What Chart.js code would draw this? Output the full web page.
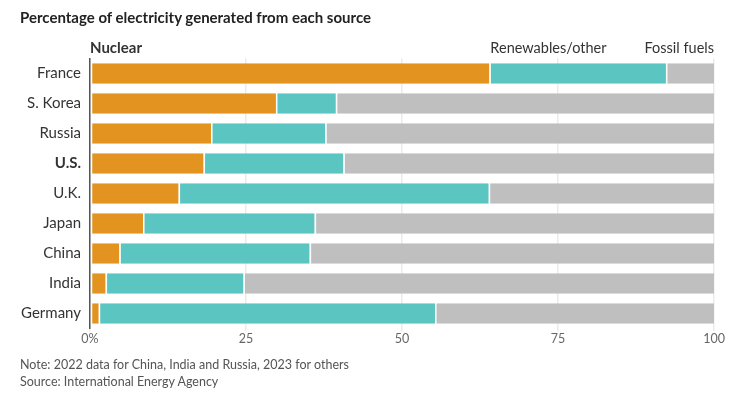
<!DOCTYPE html>
<html>
<head>
<meta charset="utf-8">
<script src="https://cdn.jsdelivr.net/npm/chart.js@4"></script>
<style>
  body { margin: 0; background: #fff; }
  #wrap { position: relative; width: 739px; height: 398px; }
  #titulo { position: absolute; left: 20px; top: 8px; font: bold 15px Lato, sans-serif; color: #222; }
  .nota { position: absolute; left: 20px; font: 12.5px Lato, sans-serif; color: #555; }
</style>
</head>
<body>
<div id="wrap">
  <canvas id="grafico" width="739" height="398"></canvas>
  <div id="titulo">Percentage of electricity generated from each source</div>
  <div class="nota" style="top:357px">Note: 2022 data for China, India and Russia, 2023 for others</div>
  <div class="nota" style="top:374px">Source: International Energy Agency</div>
</div>
<script>
const paises = ['France', 'S. Korea', 'Russia', 'U.S.', 'U.K.', 'Japan', 'China', 'India', 'Germany'];
const nuclear = [64.0, 29.8, 19.4, 18.2, 14.2, 8.5, 4.7, 2.5, 1.4];
const renovaveis = [28.3, 9.6, 18.3, 22.4, 49.7, 27.5, 30.5, 22.1, 53.9];
const fosseis = [7.7, 60.6, 62.3, 59.4, 36.1, 64.0, 64.8, 75.4, 44.7];
const ticksX = [0, 25, 50, 75, 100];

const fonteRotulo = 'Lato, sans-serif';

// rotulos das series em cima das barras
const rotulosSeries = {
    id: 'rotulosSeries',
    afterDraw(chart) {
        const ctx = chart.ctx;
        const x = chart.scales.x;
        const y = 48;
        ctx.save();
        ctx.textBaseline = 'middle';
        ctx.fillStyle = '#333';
        ctx.font = 'bold 15px ' + fonteRotulo;
        ctx.textAlign = 'left';
        ctx.fillText('Nuclear', x.getPixelForValue(0), y);
        ctx.font = '14.5px ' + fonteRotulo;
        ctx.fillText('Renewables/other', x.getPixelForValue(nuclear[0]) + 1, y);
        ctx.textAlign = 'right';
        ctx.fillText('Fossil fuels', x.getPixelForValue(100), y);
        ctx.restore();
    }
};

const ctx = document.getElementById('grafico').getContext('2d');
new Chart(ctx, {
    type: 'bar',
    data: {
        labels: paises,
        datasets: [
            { label: 'Nuclear', data: nuclear, backgroundColor: '#e29320' },
            { label: 'Renewables/other', data: renovaveis, backgroundColor: '#5bc5c1' },
            { label: 'Fossil fuels', data: fosseis, backgroundColor: '#bfbfbf' }
        ].map(d => Object.assign(d, {
            borderColor: '#ffffff',
            borderWidth: { left: 1.5, right: 0, top: 0, bottom: 0 },
            borderSkipped: false,
            barPercentage: 0.68,
            categoryPercentage: 1
        }))
    },
    options: {
        responsive: false,
        animation: false,
        indexAxis: 'y',
        layout: { padding: { top: 58.5, left: 0, right: 25, bottom: 49.5 } },
        plugins: {
            legend: { display: false },
            tooltip: { enabled: false }
        },
        scales: {
            x: {
                stacked: true,
                min: 0,
                max: 100,
                afterFit: (s) => { s.height = 20; },
                afterBuildTicks: (s) => { s.ticks = ticksX.map(v => ({ value: v })); },
                grid: { color: '#ebebeb', lineWidth: 1.5, tickLength: 3, drawTicks: true },
                border: { display: false },
                ticks: {
                    color: '#666',
                    padding: 0,
                    font: { size: 12.5, family: fonteRotulo },
                    callback: (v) => v === 0 ? '0%' : v
                }
            },
            y: {
                stacked: true,
                afterFit: (s) => { s.width = 90; },
                grid: { display: false, drawTicks: false },
                border: { display: true, color: '#555', width: 1.5 },
                ticks: {
                    color: '#333',
                    padding: 9,
                    font: (c) => ({
                        size: 15,
                        family: fonteRotulo,
                        weight: paises[c.index] === 'U.S.' ? 'bold' : 'normal'
                    })
                }
            }
        }
    },
    plugins: [rotulosSeries]
});
</script>
</body>
</html>
